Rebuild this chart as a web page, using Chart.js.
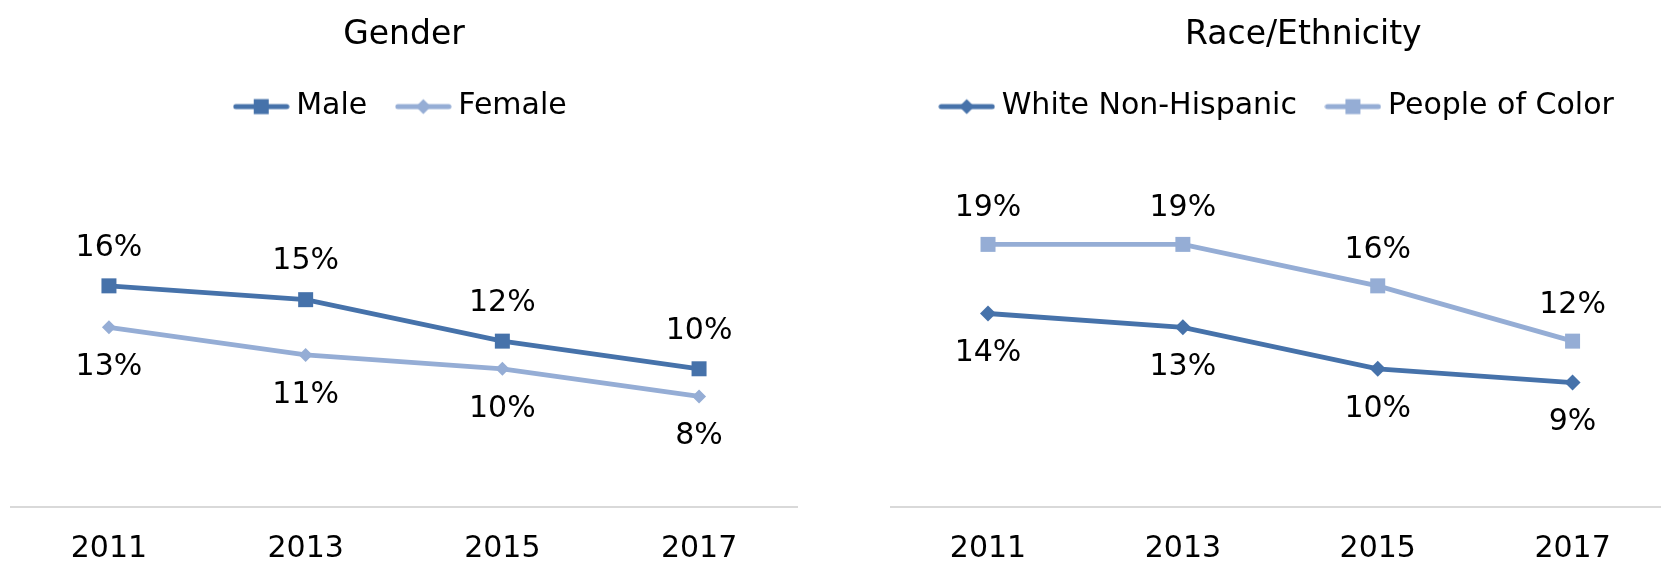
<!DOCTYPE html>
<html>
<head>
<meta charset="utf-8">
<script src="https://cdn.jsdelivr.net/npm/chart.js@4.4.1/dist/chart.umd.min.js"></script>
<style>
  html, body { margin: 0; padding: 0; background: #fff; overflow: hidden; }
  body { width: 1661px; height: 562px; position: relative; }
  .box { position: absolute; top: 0; height: 591px; }
  #genderBox { left: 0; width: 808px; }
  #raceBox { left: 880px; width: 843px; }
</style>
</head>
<body>
<div class="box" id="genderBox"><canvas id="genderChart"></canvas></div>
<div class="box" id="raceBox"><canvas id="raceChart"></canvas></div>
<script>
// données (en %)
const years = ['2011', '2013', '2015', '2017'];
const maleValues = [16, 15, 12, 10];
const femaleValues = [13, 11, 10, 8];
const whiteValues = [14, 13, 10, 9];
const colorValues = [19, 19, 16, 12];

const darkBlue = '#4672aa';
const lightBlue = '#95add5';

Chart.defaults.font.family = '"DejaVu Sans", sans-serif';
Chart.defaults.color = '#000';

// petit échantillon ligne + marqueur pour la légende
function legendSwatch(color, marker) {
    const c = document.createElement('canvas');
    c.width = 57; c.height = 18;
    const g = c.getContext('2d');
    g.strokeStyle = color;
    g.fillStyle = color;
    g.lineWidth = 5;
    g.lineCap = 'round';
    g.beginPath(); g.moveTo(3, 9); g.lineTo(54, 9); g.stroke();
    if (marker === 'rect') {
        g.fillRect(21, 1.5, 15, 15);
    } else {
        g.beginPath();
        g.moveTo(21, 9); g.lineTo(28.5, 1.5); g.lineTo(36, 9); g.lineTo(28.5, 16.5);
        g.closePath(); g.fill();
    }
    return c;
}

// étiquettes de valeurs au-dessus / au-dessous des points
const pointLabels = {
    id: 'pointLabels',
    afterDatasetsDraw(chart) {
        const ctx = chart.ctx;
        ctx.save();
        ctx.font = '30px "DejaVu Sans"';
        ctx.fillStyle = '#000';
        ctx.textAlign = 'center';
        ctx.textBaseline = 'middle';
        chart.data.datasets.forEach((ds, i) => {
            chart.getDatasetMeta(i).data.forEach((pt, j) => {
                ctx.fillText(ds.data[j] + '%', pt.x, pt.y + ds.labelOffset);
            });
        });
        ctx.restore();
    }
};

function lineDataset(label, data, color, marker, radius, labelOffset) {
    return {
        label: label,
        data: data,
        borderColor: color,
        backgroundColor: color,
        borderWidth: 4.8,
        tension: 0,
        pointStyle: marker,
        pointRadius: radius,
        pointHoverRadius: radius,
        pointBorderWidth: 0,
        pointBackgroundColor: color,
        clip: false,
        labelOffset: labelOffset
    };
}

function buildOptions(title, swatches, padding, rightAxis) {
    const yScale = rightAxis
        ? { position: 'right', min: 0, max: 27.16, ticks: { display: false },
            grid: { display: false, drawTicks: false }, border: { display: false },
            afterFit(s) { s.width = 53; } }
        : { display: false, min: 0, max: 27.16 };
    return {
        responsive: true,
        maintainAspectRatio: false,
        animation: false,
        layout: { padding: padding },
        plugins: {
            title: {
                display: true, text: title, color: '#000',
                font: { size: 33, weight: 'normal' },
                padding: { top: 16, bottom: 0 }
            },
            legend: {
                fullSize: !rightAxis,
                labels: {
                    usePointStyle: true,
                    pointStyleWidth: 40,
                    padding: 36,
                    color: '#000',
                    font: { size: 30 },
                    generateLabels: chart => chart.data.datasets.map((ds, i) => ({
                        text: ds.label,
                        pointStyle: swatches[i],
                        fillStyle: ds.borderColor,
                        strokeStyle: ds.borderColor,
                        lineWidth: 0,
                        hidden: false,
                        fontColor: '#000',
                        datasetIndex: i
                    }))
                }
            },
            tooltip: { enabled: false }
        },
        scales: {
            x: {
                offset: true,
                grid: { display: false, drawTicks: false },
                border: { display: true, color: '#d9d9d9', width: 2 },
                ticks: { color: '#000', font: { size: 30 }, padding: 24 }
            },
            y: yScale
        }
    };
}

// Graphique Genre
new Chart(document.getElementById('genderChart'), {
    type: 'line',
    data: {
        labels: years,
        datasets: [
            lineDataset('Male', maleValues, darkBlue, 'rect', 10.6, -38),
            lineDataset('Female', femaleValues, lightBlue, 'rectRot', 7, 40)
        ]
    },
    options: buildOptions('Gender',
        [legendSwatch(darkBlue, 'rect'), legendSwatch(lightBlue, 'diamond')],
        { left: 9, right: 9, top: 0, bottom: 0 }, false),
    plugins: [pointLabels]
});

// Graphique Race/Ethnicité
new Chart(document.getElementById('raceChart'), {
    type: 'line',
    data: {
        labels: years,
        datasets: [
            lineDataset('White Non-Hispanic', whiteValues, darkBlue, 'rectRot', 8, 40),
            lineDataset('People of Color', colorValues, lightBlue, 'rect', 10.6, -36)
        ]
    },
    options: buildOptions('Race/Ethnicity',
        [legendSwatch(darkBlue, 'diamond'), legendSwatch(lightBlue, 'rect')],
        { left: 3.7, right: 0, top: 0, bottom: 0 }, true),
    plugins: [pointLabels]
});
</script>
</body>
</html>
